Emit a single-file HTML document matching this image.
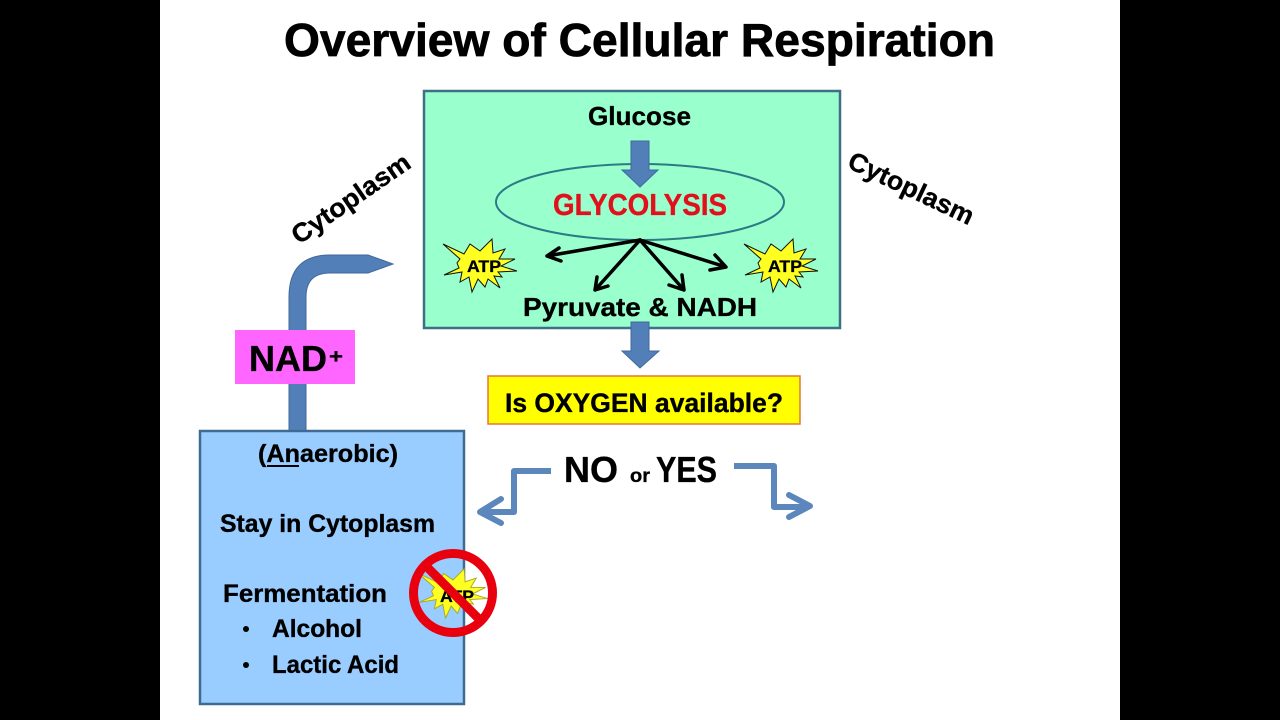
<!DOCTYPE html>
<html><head><meta charset="utf-8"><style>
html,body{margin:0;padding:0;background:#000}
svg{display:block}
text{font-family:"Liberation Sans",sans-serif;font-weight:700;fill:#000;stroke:#000;stroke-width:.35px}
</style></head><body>
<svg width="1280" height="720" viewBox="0 0 1280 720" xmlns="http://www.w3.org/2000/svg">
<rect width="1280" height="720" fill="#000"/>
<rect x="160" y="0" width="960" height="720" fill="#fff"/>
<text x="284" y="56" font-size="46" textLength="711" lengthAdjust="spacingAndGlyphs" style="stroke-width:.8px">Overview of Cellular Respiration</text>

<rect x="424" y="91" width="416" height="237" fill="#99FFCC" stroke="#3f6f86" stroke-width="2.5"/>
<ellipse cx="640" cy="202" rx="144" ry="38" fill="none" stroke="#2c7a86" stroke-width="2"/>
<text x="588" y="125" font-size="26" textLength="103" lengthAdjust="spacingAndGlyphs">Glucose</text>
<polygon points="631,141 649,141 649,170 658,170 640,187 622,170 631,170" fill="#527fb8" stroke="#3f6a9a" stroke-width="1"/>
<text x="553" y="215" font-size="31" textLength="174" lengthAdjust="spacingAndGlyphs" style="fill:#e0101c;stroke:#e0101c">GLYCOLYSIS</text>

<g fill="none" stroke="#000" stroke-width="3.5" stroke-linecap="round" stroke-linejoin="round">
<path d="M640 240L547 256M559 248L547 256L561 261"/>
<path d="M640 240L595 290M597 277L595 290L608 286"/>
<path d="M640 240L684 290M669 285L684 290L682 275"/>
<path d="M640 240L726 267M715 255L726 267L710 270"/>
</g>

<polygon points="443,244 464,254 470,244 480,251 492,239 493,253 505,249 499,259 515,259 501,266 517,271 498,272 502,277 494,276 500,288 488,279 485,287 478,279 472,292 469,277 460,282 462,272 444,275 459,268 457,263 460,259" fill="#ffff22" stroke="#111" stroke-width="1"/>
<polygon transform="translate(301,0)" points="443,244 464,254 470,244 480,251 492,239 493,253 505,249 499,259 515,259 501,266 517,271 498,272 502,277 494,276 500,288 488,279 485,287 478,279 472,292 469,277 460,282 462,272 444,275 459,268 457,263 460,259" fill="#ffff22" stroke="#111" stroke-width="1"/>
<text x="467" y="272" font-size="17" textLength="34" lengthAdjust="spacingAndGlyphs">ATP</text>
<text x="768" y="272" font-size="17" textLength="34" lengthAdjust="spacingAndGlyphs">ATP</text>

<text x="523" y="316" font-size="26" textLength="234" lengthAdjust="spacingAndGlyphs">Pyruvate &amp; NADH</text>
<polygon points="631,322 649,322 649,351 659,351 640,368 622,351 631,351" fill="#527fb8" stroke="#3f6a9a" stroke-width="1"/>

<text transform="translate(299,245) rotate(-34.6)" font-size="26" textLength="138" lengthAdjust="spacingAndGlyphs">Cytoplasm</text>
<text transform="translate(846,167) rotate(25.4)" font-size="26" textLength="136" lengthAdjust="spacingAndGlyphs">Cytoplasm</text>

<path d="M289 431V297Q289 255 330 255H368L393 264L368 273H330Q306 273 306 297V431Z" fill="#527fb8" stroke="#3f6a9a" stroke-width="1"/>
<rect x="235" y="330" width="120" height="54" fill="#ff66ff"/>
<text x="249" y="371" font-size="36" textLength="78" lengthAdjust="spacingAndGlyphs">NAD</text>
<text x="329" y="363" font-size="20" textLength="14" lengthAdjust="spacingAndGlyphs">+</text>

<rect x="488" y="376" width="312" height="48" fill="#ffff00" stroke="#e0783a" stroke-width="1.5"/>
<text x="505" y="412" font-size="27" textLength="278" lengthAdjust="spacingAndGlyphs">Is OXYGEN available?</text>

<text x="564" y="482" font-size="36" textLength="54" lengthAdjust="spacingAndGlyphs">NO</text>
<text x="630" y="482" font-size="19" textLength="20" lengthAdjust="spacingAndGlyphs">or</text>
<text x="656" y="482" font-size="36" textLength="61" lengthAdjust="spacingAndGlyphs">YES</text>
<g fill="none" stroke="#5b87bd" stroke-width="6" stroke-linejoin="round" stroke-linecap="round">
<path d="M551 471H514V512H482" stroke-linecap="butt"/>
<path d="M501 499L480 512L501 523"/>
<path d="M734 466H774V507H808" stroke-linecap="butt"/>
<path d="M789 495L810 506L789 517"/>
</g>

<rect x="200" y="431" width="264" height="273" fill="#99CCFF" stroke="#3f6a94" stroke-width="2.5"/>
<text x="258" y="462" font-size="25" textLength="140" lengthAdjust="spacingAndGlyphs">(Anaerobic)</text>
<rect x="267" y="465" width="32" height="2" fill="#000"/>
<text x="220" y="532" font-size="25" textLength="215" lengthAdjust="spacingAndGlyphs">Stay in Cytoplasm</text>
<text x="223" y="602" font-size="25" textLength="164" lengthAdjust="spacingAndGlyphs">Fermentation</text>
<circle cx="246" cy="629" r="3" fill="#000"/>
<text x="272" y="637" font-size="25" textLength="90" lengthAdjust="spacingAndGlyphs">Alcohol</text>
<circle cx="246" cy="665" r="3" fill="#000"/>
<text x="272" y="673" font-size="25" textLength="127" lengthAdjust="spacingAndGlyphs">Lactic Acid</text>

<polygon transform="translate(453,593) scale(.93) translate(-480,-265)" points="443,244 464,254 470,244 480,251 492,239 493,253 505,249 499,259 515,259 501,266 517,271 498,272 502,277 494,276 500,288 488,279 485,287 478,279 472,292 469,277 460,282 462,272 444,275 459,268 457,263 460,259" fill="#ffff22" stroke="#aaa820" stroke-width="1"/>
<text x="440" y="602" font-size="17" textLength="34" lengthAdjust="spacingAndGlyphs">ATP</text>
<circle cx="453" cy="593" r="39.5" fill="none" stroke="#e8000f" stroke-width="9"/>
<line x1="425" y1="565" x2="481" y2="621" stroke="#e8000f" stroke-width="9"/>
</svg>
</body></html>
